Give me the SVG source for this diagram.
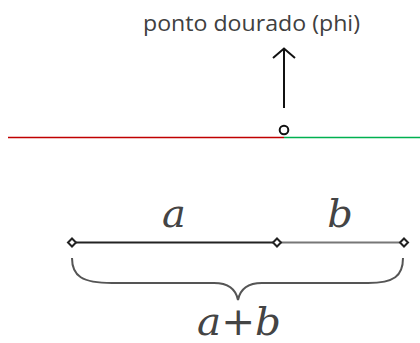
<svg xmlns="http://www.w3.org/2000/svg" width="420" height="343" viewBox="0 0 420 343">
<style>
.lbl{font-family:"Open Sans","Liberation Sans",sans-serif;font-size:22px;fill:#404040}
.math{font-family:"DejaVu Serif",serif;font-style:italic;font-size:40px;fill:#444}
.dia{fill:#fff;stroke:#222;stroke-width:2}
</style>
<rect width="420" height="343" fill="#fff"/>
<g id="title"><text class="lbl" x="143" y="31" textLength="217" lengthAdjust="spacingAndGlyphs">ponto dourado (phi)</text></g>
<g id="connectors">
<line x1="8" y1="137.5" x2="284" y2="137.5" stroke="#c00000" stroke-width="1.5"/>
<line x1="284" y1="137.5" x2="420" y2="137.5" stroke="#00b050" stroke-width="1.5"/>
<line x1="284" y1="50" x2="284" y2="108" stroke="#111" stroke-width="2"/>
<polyline points="273,58 284,48.5 295,58" fill="none" stroke="#111" stroke-width="2"/>
<line x1="72" y1="242.5" x2="277" y2="242.5" stroke="#222" stroke-width="2"/>
<line x1="277" y1="242.5" x2="404" y2="242.5" stroke="#777" stroke-width="2"/>
<path d="M72,258 C72,276 82,283 112,283 L214,283 C230,283 236,290 238,300 C240,290 246,283 262,283 L368,283 C394,283 403,276 403,258" fill="none" stroke="#555" stroke-width="2"/>
</g>
<g id="golden-point"><circle cx="284" cy="130" r="4.3" fill="#fff" stroke="#111" stroke-width="2"/></g>
<g id="p1"><polygon class="dia" points="72,238.5 76,242.5 72,246.5 68,242.5"/></g>
<g id="p2"><polygon class="dia" points="277,238.5 281,242.5 277,246.5 273,242.5"/></g>
<g id="p3"><polygon class="dia" points="404,238.5 408,242.5 404,246.5 400,242.5"/></g>
<g id="label-a"><text class="math" x="174" y="227" text-anchor="middle">a</text></g>
<g id="label-b"><text class="math" x="340" y="227" text-anchor="middle">b</text></g>
<g id="label-ab"><text class="math" x="239" y="335" text-anchor="middle" textLength="84" lengthAdjust="spacingAndGlyphs">a+b</text></g>
</svg>
